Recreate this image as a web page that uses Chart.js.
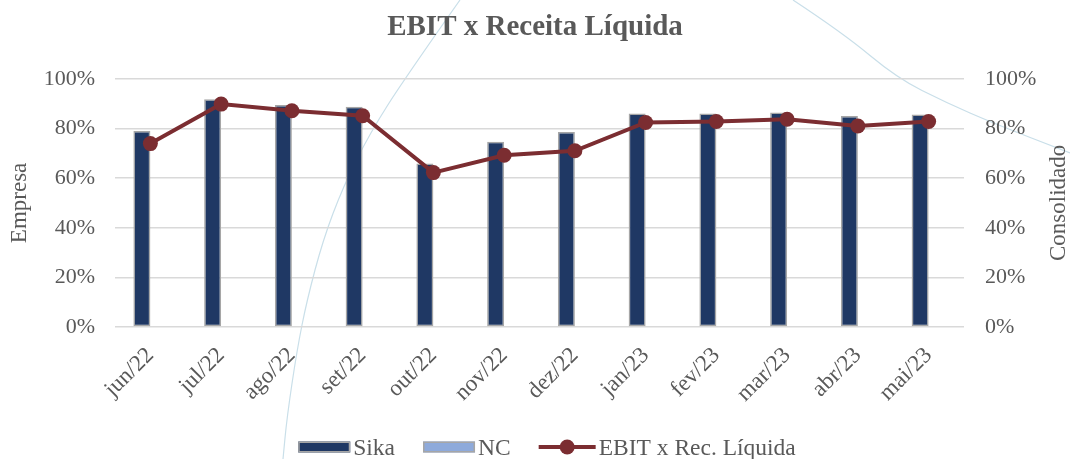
<!DOCTYPE html>
<html><head><meta charset="utf-8">
<script src="https://cdn.jsdelivr.net/npm/chart.js@4/dist/chart.umd.min.js"></script>
<style>html,body{margin:0;padding:0;background:#fff}#wrap{width:1070px;height:459px;position:relative}</style>
</head><body><div id="wrap"><canvas id="c" width="1070" height="459"></canvas></div>
<script>
const categories = ['jun/22','jul/22','ago/22','set/22','out/22','nov/22','dez/22','jan/23','fev/23','mar/23','abr/23','mai/23'];
const sikaValues = [79.0, 91.8, 89.4, 88.7, 65.9, 74.6, 78.6, 86.0, 86.0, 86.4, 85.0, 85.6];
const ncValues = [null, null, null, null, null, null, null, null, null, null, null, null];
const ebitValues = [73.9, 89.8, 87.1, 85.1, 62.2, 69.2, 71.0, 82.4, 82.8, 83.7, 81.0, 82.8];
const tickValues = [0, 20, 40, 60, 80, 100];
const seriesNames = ['Sika', 'NC', 'EBIT x Rec. Líquida'];
const chartTitle = 'EBIT x Receita Líquida';
const leftAxisTitle = 'Empresa';
const rightAxisTitle = 'Consolidado';

const FONT = "'Liberation Serif', 'Times New Roman', serif";
const TXT = '#595959';
const NAVY = '#1f3864';
const LIGHT = '#8eaadb';
const MAROON = '#7b2d31';
const BORDER = '#a6a6a6';

Chart.defaults.font.family = FONT;
Chart.defaults.color = TXT;

const decor = {
  id: 'decor',
  beforeDraw(chart) {
    const ctx = chart.ctx;
    ctx.save();
    ctx.strokeStyle = '#c9dfe9';
    ctx.lineWidth = 1.2;
    const curves = [
      [[460,0],[405,78],[370,133],[343,187],[323,240],[307,300],[297,350],[287,417],[283,459]],
      [[793,0],[843,33],[897,78],[947,103],[993,123],[1070,153]]
    ];
    curves.forEach(p => {
      ctx.beginPath();
      ctx.moveTo(p[0][0], p[0][1]);
      for (let i = 1; i < p.length - 1; i++) {
        const mx = (p[i][0] + p[i+1][0]) / 2, my = (p[i][1] + p[i+1][1]) / 2;
        ctx.quadraticCurveTo(p[i][0], p[i][1], mx, my);
      }
      ctx.lineTo(p[p.length-1][0], p[p.length-1][1]);
      ctx.stroke();
    });
    ctx.restore();
  },
  afterDraw(chart) {
    const ctx = chart.ctx;
    const a = chart.chartArea;
    // right axis title (reads bottom to top)
    ctx.save();
    ctx.fillStyle = TXT;
    ctx.font = "23px " + FONT;
    ctx.textAlign = 'center';
    ctx.textBaseline = 'middle';
    ctx.translate(1059, (a.top + a.bottom) / 2);
    ctx.rotate(-Math.PI / 2);
    ctx.fillText(rightAxisTitle, 0, 0);
    ctx.restore();

    // legend
    ctx.save();
    ctx.font = "23.5px " + FONT;
    const ds = chart.data.datasets;
    const symW = [52, 52, 57];
    const gapSym = 3, gapItem = 28;
    const textW = ds.map(d => ctx.measureText(d.label).width);
    let total = 0;
    ds.forEach((d, i) => { total += symW[i] + gapSym + textW[i] + (i < ds.length - 1 ? gapItem : 0); });
    let x = 547 - total / 2;
    const cy = 447;
    ds.forEach((d, i) => {
      if (d.type === 'bar') {
        ctx.fillStyle = d.backgroundColor;
        ctx.fillRect(x, cy - 5.5, symW[i], 11);
        ctx.strokeStyle = d.borderColor; ctx.lineWidth = 1.5;
        ctx.strokeRect(x + 0.75, cy - 4.75, symW[i] - 1.5, 9.5);
      } else {
        ctx.strokeStyle = d.borderColor; ctx.lineWidth = d.borderWidth;
        ctx.beginPath(); ctx.moveTo(x, cy); ctx.lineTo(x + symW[i], cy); ctx.stroke();
        ctx.fillStyle = d.pointBackgroundColor;
        ctx.beginPath(); ctx.arc(x + symW[i] / 2, cy, d.pointRadius, 0, Math.PI * 2); ctx.fill();
      }
      x += symW[i] + gapSym;
      ctx.fillStyle = TXT;
      ctx.textBaseline = 'alphabetic';
      ctx.textAlign = 'left';
      ctx.fillText(d.label, x, 455);
      x += textW[i] + gapItem;
    });
    ctx.restore();
  }
};

new Chart(document.getElementById('c'), {
  data: {
    labels: categories,
    datasets: [
      { type: 'bar', label: seriesNames[0], data: sikaValues, backgroundColor: NAVY, borderColor: BORDER, borderWidth: 1.5, borderSkipped: false, yAxisID: 'y', categoryPercentage: 0.48, barPercentage: 1, order: 2 },
      { type: 'bar', label: seriesNames[1], data: ncValues, backgroundColor: LIGHT, borderColor: BORDER, borderWidth: 1.5, borderSkipped: false, yAxisID: 'y', categoryPercentage: 0.48, barPercentage: 1, order: 3 },
      { type: 'line', label: seriesNames[2], data: ebitValues, borderColor: MAROON, backgroundColor: MAROON, borderWidth: 4, pointRadius: 7.5, pointHoverRadius: 7.5, pointBorderWidth: 0, pointBackgroundColor: MAROON, yAxisID: 'y1', order: 0, tension: 0 }
    ]
  },
  options: {
    responsive: false,
    animation: false,
    devicePixelRatio: 1,
    layout: { padding: 0 },
    scales: {
      x: {
        grid: { display: false },
        border: { display: false },
        ticks: { color: TXT, font: { family: FONT, size: 23 }, minRotation: 45, maxRotation: 45, padding: 7 },
        afterFit: s => { s.height = 132; }
      },
      y: {
        position: 'left', min: 0, max: 100,
        afterBuildTicks: s => { s.ticks = tickValues.map(v => ({ value: v })); },
        ticks: { color: TXT, font: { family: FONT, size: 22 }, padding: 20, callback: v => v + '%' },
        grid: { color: '#d9d9d9', lineWidth: 1.5, drawTicks: false },
        border: { display: false },
        title: { display: true, text: leftAxisTitle, color: TXT, font: { family: FONT, size: 23 }, padding: { top: 6, bottom: 0 } },
        afterFit: s => { s.width = 115; }
      },
      y1: {
        position: 'right', min: 0, max: 100,
        afterBuildTicks: s => { s.ticks = tickValues.map(v => ({ value: v })); },
        ticks: { color: TXT, font: { family: FONT, size: 22 }, padding: 21, callback: v => v + '%' },
        grid: { display: false, drawTicks: false },
        border: { display: false },
        afterFit: s => { s.width = 106; }
      }
    },
    plugins: {
      title: { display: true, text: chartTitle, color: TXT, font: { family: FONT, size: 29, weight: 'bold' }, padding: { top: 10, bottom: 34 } },
      legend: { display: false },
      tooltip: { enabled: false }
    }
  },
  plugins: [decor]
});
</script>
</body></html>
